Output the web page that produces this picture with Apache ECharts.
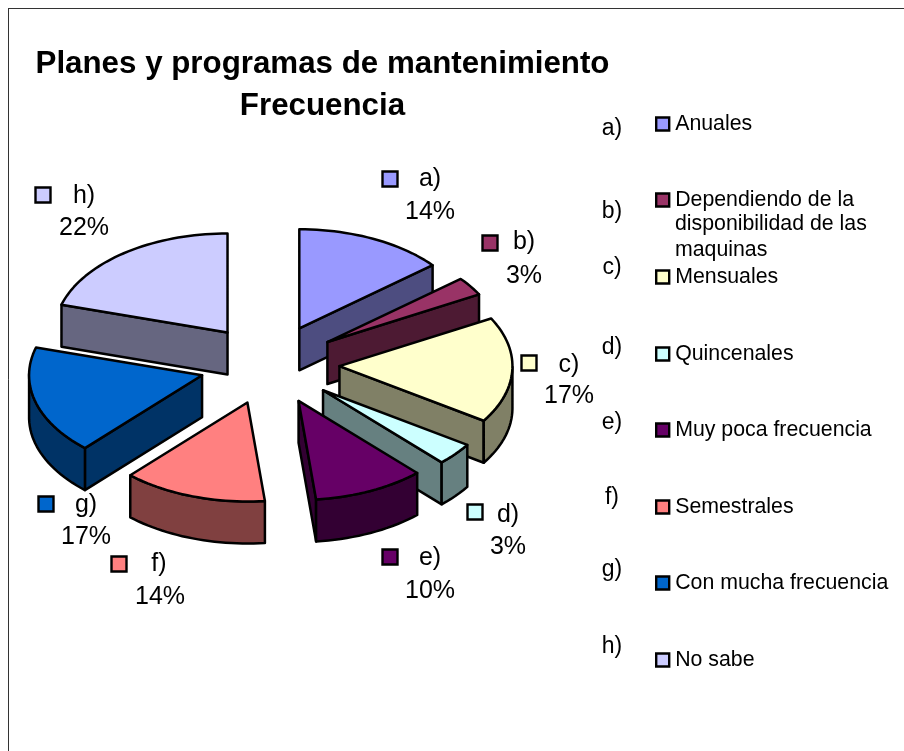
<!DOCTYPE html>
<html>
<head>
<meta charset="utf-8">
<style>html,body{margin:0;padding:0;background:#fff}#c{width:904px;height:751px}</style>
<script src="https://cdn.jsdelivr.net/npm/echarts@6/dist/echarts.min.js"></script>
</head>
<body>
<div id="c"></div>
<script>
const letters = ['a)','b)','c)','d)','e)','f)','g)','h)'];
const names = ['Anuales','Dependiendo de la disponibilidad de las maquinas','Mensuales','Quincenales','Muy poca frecuencia','Semestrales','Con mucha frecuencia','No sabe'];
const values = [14,3,17,3,10,14,17,22];
const colors = ['#9999FF','#993366','#FFFFCC','#CCFFFF','#660066','#FF8080','#0066CC','#CCCCFF'];
const wallColors = ['#4D4D80','#4D1A33','#808066','#668080','#330033','#804040','#003366','#666680'];

// layout of the 3D pie
const CX = 269.5, CY = 364.5, RX = 173, RY = 99, DEPTH = 42, EX = 70, EY = 40;
// the 3D view shifts the apparent angle of each point on the rim: [true angle, shift in degrees]
const viewShift = [[0,0],[60,0],[122,1],[133,3.5],[169,5],[220,3],[281,5.5],[360,0]];
const viewAngle = (a) => {
  for(let i=1;i<viewShift.length;i++){
    const [a0,s0]=viewShift[i-1],[a1,s1]=viewShift[i];
    if(a<=a1) return a + s0+(s1-s0)*(a-a0)/(a1-a0);
  }
  return a;
};
const total = values.reduce((a,b)=>a+b,0);
const rad = d => d*Math.PI/180;
let acc = 0;
const spans = values.map(v => { const s = acc/total*360; acc += v; return [s, acc/total*360]; });

// label layout: square centre, letter centre, percent centre
const labelPos = [
  [[390,179],[430,179],[430,212]],
  [[490,243],[524,242],[524,276]],
  [[529,363],[569,365],[569,396]],
  [[475,512],[508,515],[508,547]],
  [[390,557],[430,558],[430,591]],
  [[119,564],[159,564],[160,597]],
  [[46,504],[86,505],[86,537]],
  [[43,195],[84,196],[84,228]]
];
const legendY = [122,198,275,352,428,505,581,658];
const sideLabelY = [129,212,268,348,423,498,570,647];
const FAMILY = '"Liberation Sans", Arial, sans-serif';
const LABEL_FONT = '25px ' + FAMILY;
const LEGEND_FONT_SIZE = 21.3;

function arcPts(ax, ay, a0, a1, dy){
  const pts = [], n = Math.max(2, Math.ceil((a1-a0)/2));
  for(let i=0;i<=n;i++){
    const t = rad(viewAngle(a0+(a1-a0)*i/n));
    pts.push([ax+RX*Math.sin(t), ay-RY*Math.cos(t)+dy]);
  }
  return pts;
}
const strokeStyle = (fill) => ({fill, stroke:'#000', lineWidth:2.5, lineJoin:'round'});

function sliceRenderer(idx){
  return function(){
    const [a0,a1] = spans[idx];
    const mid = rad(viewAngle((a0+a1)/2));
    const ax = CX+EX*Math.sin(mid), ay = CY-EY*Math.cos(mid);
    const children = [];
    const wall = wallColors[idx];
    const quad = (p) => children.push({type:'polygon', shape:{points:[[ax,ay],p,[p[0],p[1]+DEPTH],[ax,ay+DEPTH]]}, style:strokeStyle(wall), silent:true});
    if(Math.sin(rad(viewAngle(a0)))<-1e-6) quad(arcPts(ax,ay,a0,a0,0)[0]);
    if(Math.sin(rad(viewAngle(a1)))> 1e-6) quad(arcPts(ax,ay,a1,a1,0)[0]);
    const w0 = Math.max(a0,90), w1 = Math.min(a1,266);
    if(w1>w0){
      const top = arcPts(ax,ay,w0,w1,0), bot = arcPts(ax,ay,w0,w1,DEPTH).reverse();
      children.push({type:'polygon', shape:{points:top.concat(bot)}, style:strokeStyle(wall), silent:true});
    }
    children.push({type:'polygon', shape:{points:[[ax,ay]].concat(arcPts(ax,ay,a0,a1,0))}, style:strokeStyle(colors[idx]), silent:true});
    const [sq,lt,pc] = labelPos[idx];
    children.push({type:'rect', shape:{x:sq[0]-7.5,y:sq[1]-7.5,width:15,height:15}, style:{fill:colors[idx],stroke:'#000',lineWidth:2.4}, silent:true});
    children.push({type:'text', style:{text:letters[idx],x:lt[0],y:lt[1],font:LABEL_FONT,fill:'#000',textAlign:'center',textVerticalAlign:'middle'}, silent:true});
    children.push({type:'text', style:{text:values[idx]+'%',x:pc[0],y:pc[1],font:LABEL_FONT,fill:'#000',textAlign:'center',textVerticalAlign:'middle'}, silent:true});
    return {type:'group', children};
  };
}

// paint back to front
const order = values.map((v,i)=>i).sort((p,q)=>{
  const mp=(spans[p][0]+spans[p][1])/2, mq=(spans[q][0]+spans[q][1])/2;
  return -Math.cos(rad(mp)) - -Math.cos(rad(mq));
});

const option = {
  backgroundColor:'#fff',
  animation:false,
  title:{
    text:'Planes y programas de mantenimiento\nFrecuencia',
    left:317.5, top:38.5, textAlign:'center',
    textStyle:{fontFamily:FAMILY,fontWeight:'bold',fontSize:31.3,lineHeight:42,color:'#000'}
  },
  legend: names.map((n,i)=>({
    data:[n], orient:'vertical', left:655, top:legendY[i]-8.5, padding:0,
    itemWidth:13, itemHeight:13, selectedMode:false, icon:'rect',
    formatter:(s)=> i===1 ? 'Dependiendo de la' : s,
    itemStyle:{color:colors[i],borderColor:'#000',borderWidth:2.4},
    textStyle:{fontFamily:FAMILY,fontSize:LEGEND_FONT_SIZE,color:'#000',padding:[0,0,0,1]}
  })),
  graphic:[
    {type:'line',shape:{x1:8.5,y1:8.5,x2:8.5,y2:751},style:{stroke:'#333',lineWidth:1},silent:true},
    {type:'line',shape:{x1:8,y1:8.5,x2:904,y2:8.5},style:{stroke:'#333',lineWidth:1},silent:true},
    {type:'text',style:{text:'disponibilidad de las',x:675,y:224.5,font:LEGEND_FONT_SIZE+'px '+FAMILY,fill:'#000',textVerticalAlign:'middle'},silent:true},
    {type:'text',style:{text:'maquinas',x:675,y:250,font:LEGEND_FONT_SIZE+'px '+FAMILY,fill:'#000',textVerticalAlign:'middle'},silent:true}
  ].concat(letters.map((l,i)=>({type:'text',style:{text:l,x:612,y:sideLabelY[i],font:'23px '+FAMILY,fill:'#000',textAlign:'center',textVerticalAlign:'middle'},silent:true}))),
  series: names.map((n,i)=>({
    type:'custom', name:n, coordinateSystem:'none',
    z:2+order.indexOf(i),
    itemStyle:{color:colors[i]},
    data:[[values[i]]],
    renderItem:sliceRenderer(i),
    silent:true
  }))
};
echarts.init(document.getElementById('c'),null,{renderer:'canvas'}).setOption(option);
</script>
</body>
</html>
